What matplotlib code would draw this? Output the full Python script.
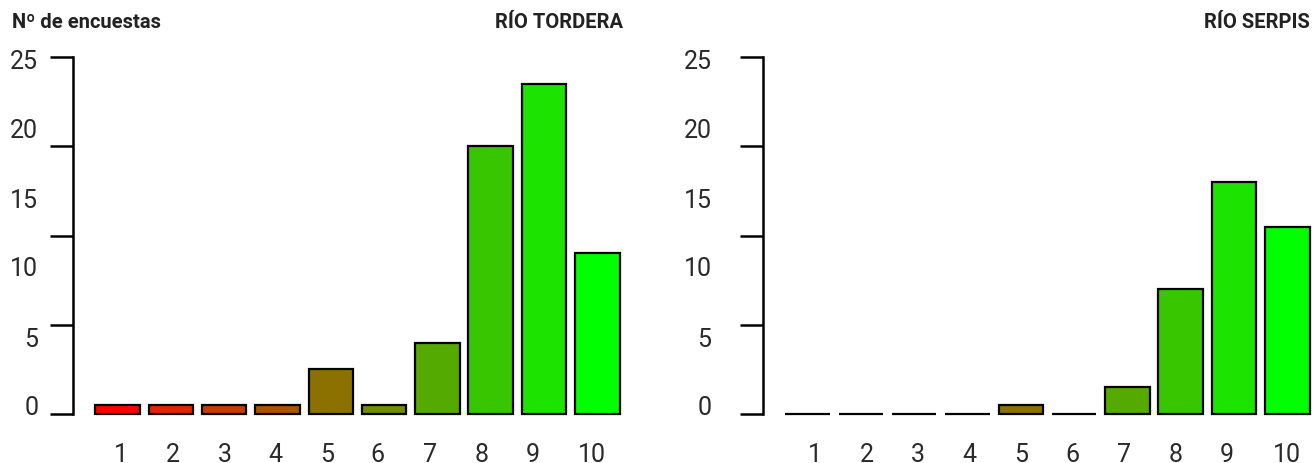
import matplotlib
matplotlib.use("Agg")
import matplotlib.pyplot as plt

plt.rcParams['font.family'] = ['Roboto', 'DejaVu Sans']

# puntuaciones 1..10 y numero de encuestas por rio
scores = [1, 2, 3, 4, 5, 6, 7, 8, 9, 10]
tordera = [1, 1, 1, 1, 5, 1, 8, 30, 37, 18]
serpis = [0, 0, 0, 0, 1, 0, 3, 14, 26, 21]
bar_colors = ['#ff0000', '#e32400', '#c63c00', '#aa5500', '#8d7100',
              '#718d00', '#55aa00', '#38c600', '#1ce300', '#00ff00']
ytick_labels = ['0', '5', '10', '15', '20', '25']
panel_titles = ['RÍO TORDERA', 'RÍO SERPIS']

# layout (the original R plot has its labels slightly out of step with the marks)
W, H = 1315, 463
step = 1.2
bar_x = [i * step for i in range(len(scores))]
ylab_pos = [0.9, 8.6, 16.5, 24.2, 32.0, 39.7]
xlab_pos = [[0.09, 1.24, 2.41, 3.56, 4.71, 5.86, 7.03, 8.20, 9.35, 10.68],
            [0.18, 1.34, 2.49, 3.65, 4.81, 5.96, 7.12, 8.29, 9.44, 10.80]]
ylab_pad = [25, 37]

fig = plt.figure(figsize=(W / 100, H / 100), dpi=100)
lefts = [73, 763]
for k, vals in enumerate([tordera, serpis]):
    ax = fig.add_axes([lefts[k] / W, (H - 414) / H, 551 / W, 357 / H])
    ax.bar(bar_x, vals, width=1.0, color=bar_colors, edgecolor='black',
           linewidth=1.6, clip_on=False)
    ax.set_xlim(-1.0, 11.4)
    ax.set_ylim(0, 40)
    for s in ['top', 'right', 'bottom']:
        ax.spines[s].set_visible(False)
    ax.spines['left'].set_linewidth(1.8)
    ax.spines['left'].set_bounds(0, 40)
    ax.set_yticks([0, 10, 20, 30, 40])
    ax.set_yticklabels([])
    ax.tick_params(axis='y', which='major', length=16.5, width=1.8, direction='out')
    ax.set_yticks(ylab_pos, minor=True)
    ax.set_yticklabels(ytick_labels, minor=True, fontsize=18, color='#2a2a2a')
    ax.tick_params(axis='y', which='minor', length=0, pad=ylab_pad[k])
    ax.set_xticks(xlab_pos[k])
    ax.set_xticklabels([str(s) for s in scores], fontsize=18, color='#2a2a2a')
    ax.tick_params(axis='x', length=0, pad=21)
    right_px = 623 if k == 0 else 1310
    fig.text(right_px / W, 1 - 23 / H, panel_titles[k], ha='right', va='center',
             fontsize=14.5, fontweight='bold', color='#222222')

fig.text(12 / W, 1 - 23 / H, 'Nº de encuestas', ha='left', va='center',
         fontsize=14.5, fontweight='bold', color='#222222')

fig.savefig('out.png', dpi=100)
